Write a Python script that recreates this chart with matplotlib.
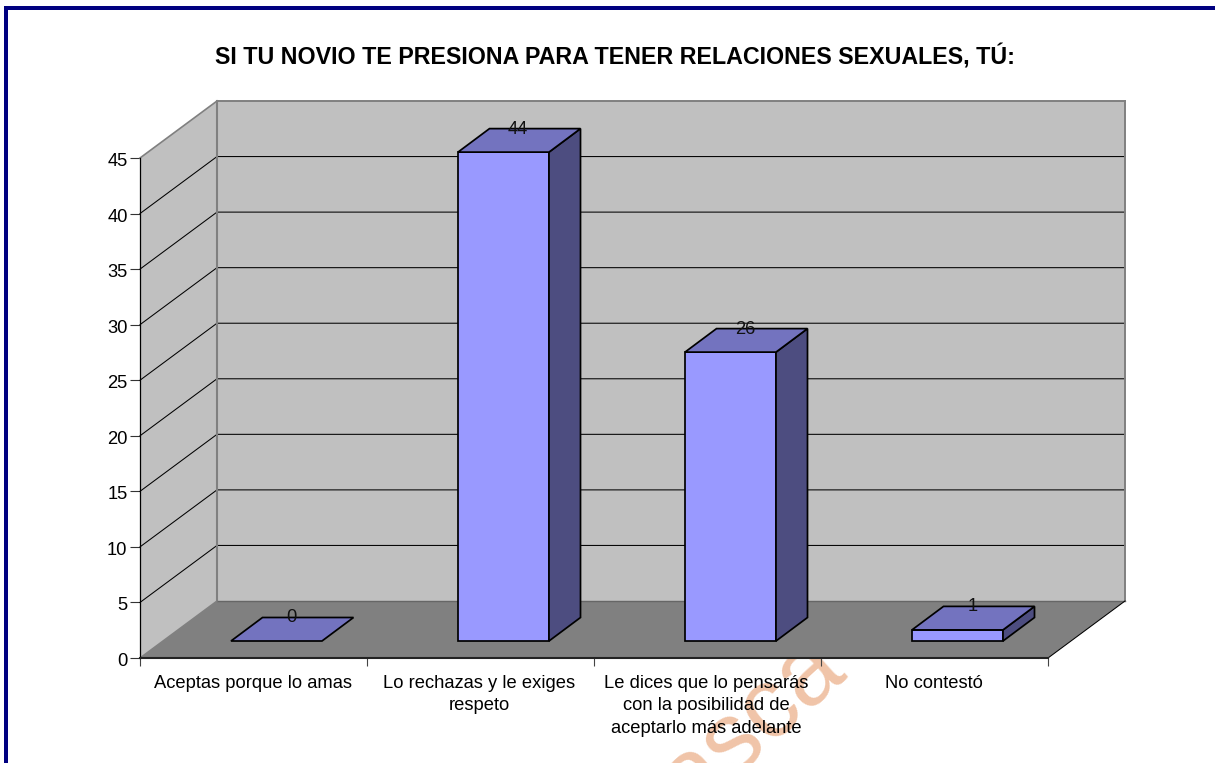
import matplotlib
matplotlib.use("Agg")
import matplotlib.pyplot as plt
from matplotlib.patches import Polygon, Rectangle
from matplotlib.transforms import ScaledTranslation

categories = ["Aceptas porque lo amas", "Lo rechazas y le exiges\nrespeto",
              "Le dices que lo pensarás\ncon la posibilidad de\naceptarlo más adelante", "No contestó"]
values = [0, 44, 26, 1]
y_ticks = list(range(0, 50, 5))
title = "SI TU NOVIO TE PRESIONA PARA TENER RELACIONES SEXUALES, TÚ:"

W, H = 1215, 763
plt.rcParams['font.family'] = ['Liberation Sans', 'DejaVu Sans']
fig = plt.figure(figsize=(W/100, H/100), dpi=100, facecolor='white')

# page frame (navy, open at right and bottom)
fig.add_artist(Rectangle((4/W, 0), 4/W, 1-6/H, transform=fig.transFigure, fc='#000080', ec='none'))
fig.add_artist(Rectangle((4/W, 1-10/H), 1-4/W, 4/H, transform=fig.transFigure, fc='#000080', ec='none'))

# watermark behind the chart
fig.text(752/W, 1-724/H, "asca", color='#F0C4A8', fontsize=72, rotation=42,
         ha='center', va='center', zorder=0)

L, R, B, T = 140, 1048, 658, 158
ax = fig.add_axes([L/W, 1-B/H, (R-L)/W, (B-T)/H], zorder=1)
ax.patch.set_alpha(0)
ax.set_xlim(0, 4)
ax.set_ylim(0, 45)

PX = 4/(R-L)          # category units per pixel
PY = 45/(B-T)         # value units per pixel
DX, DY = 77*PX, 57*PY  # wall depth
bdx, bdy = 31.5*PX, 23.5*PY  # bar depth
ox, oy = 91*PX, 17*PY        # bar front offset
bw = 91*PX

def poly(pts, fc, ec, lw, z):
    ax.add_patch(Polygon(pts, closed=True, fc=fc, ec=ec, lw=lw, zorder=z,
                         clip_on=False, joinstyle='miter'))

wall = '#C0C0C0'; floor = '#808080'; edge = '#808080'
poly([(DX, DY), (4+DX, DY), (4+DX, 45+DY), (DX, 45+DY)], wall, 'none', 0, 1)
poly([(0, 0), (DX, DY), (DX, 45+DY), (0, 45)], wall, 'none', 0, 1)
poly([(0, 0), (4, 0), (4+DX, DY), (DX, DY)], floor, 'none', 0, 1.5)

for v in y_ticks[1:-1]:
    ax.plot([0, DX, 4+DX], [v, v+DY, v+DY], color='black', lw=0.75, zorder=2,
            clip_on=False, solid_joinstyle='miter')
ax.plot([DX, 4+DX], [45+DY, 45+DY], color=edge, lw=1.4, zorder=2.1, clip_on=False)
ax.plot([DX, DX], [DY, 45+DY], color=edge, lw=1.5, zorder=2.1, clip_on=False)
ax.plot([DX, 4+DX], [DY, DY], color='#666666', lw=1.0, zorder=2.1, clip_on=False)
ax.plot([4+DX, 4+DX], [DY, 45+DY], color=edge, lw=1.4, zorder=2.1, clip_on=False)
ax.plot([0, DX], [45, 45+DY], color=edge, lw=1.2, zorder=2.1, clip_on=False)
ax.plot([0, DX], [0, DY], color=edge, lw=1.1, zorder=2.1, clip_on=False)
ax.plot([4, 4+DX], [0, DY], color='black', lw=0.75, zorder=2.1, clip_on=False)

front = '#9999FF'; top = '#7373BF'; side = '#4D4D80'
for i, v in enumerate(values):
    x0 = i + ox; x1 = x0 + bw; y0 = oy; y1 = oy + v
    z = 3 + i*0.01
    if v > 0:
        poly([(x0, y0), (x1, y0), (x1, y1), (x0, y1)], front, 'black', 1.25, z)
        poly([(x1, y0), (x1+bdx, y0+bdy), (x1+bdx, y1+bdy), (x1, y1)], side, 'black', 1.25, z)
    poly([(x0, y1), (x1, y1), (x1+bdx, y1+bdy), (x0+bdx, y1+bdy)], top, 'black', 1.25, z)
    ax.text((x0+x1)/2 + bdx/2 - 1*PX, y1+bdy-0.5*PY, str(v), ha='center', va='center',
            fontsize=13.2, color='#111111', zorder=4, clip_on=False)

for s in ('top', 'right'):
    ax.spines[s].set_visible(False)
ax.spines['left'].set_color('black'); ax.spines['left'].set_linewidth(0.9); ax.spines['left'].set_zorder(5)
ax.spines['bottom'].set_color('#222222'); ax.spines['bottom'].set_linewidth(1.5); ax.spines['bottom'].set_zorder(5)
ax.set_yticks(y_ticks)
ax.set_xticks(range(5))
ax.set_xticklabels([])
ax.tick_params(axis='y', length=7, width=0.8, pad=2, labelsize=13.2, color='#333333')
ax.tick_params(axis='x', length=5.8, width=0.8, color='#444444')
shift = ScaledTranslation(0, -1.5/100, fig.dpi_scale_trans)
for lab in ax.get_yticklabels():
    lab.set_transform(lab.get_transform() + shift)
for i, c in enumerate(categories):
    ax.annotate(c, xy=(i+0.5, 0), xycoords='data', xytext=(-1, -17), textcoords='offset pixels',
                ha='center', va='top', fontsize=13.2, linespacing=1.42, annotation_clip=False)

fig.text(615.5/W, 1-57/H, title, ha='center', va='center', fontsize=16.72, fontweight='bold', color='black')
fig.savefig('out.png', dpi=100, facecolor='white')
